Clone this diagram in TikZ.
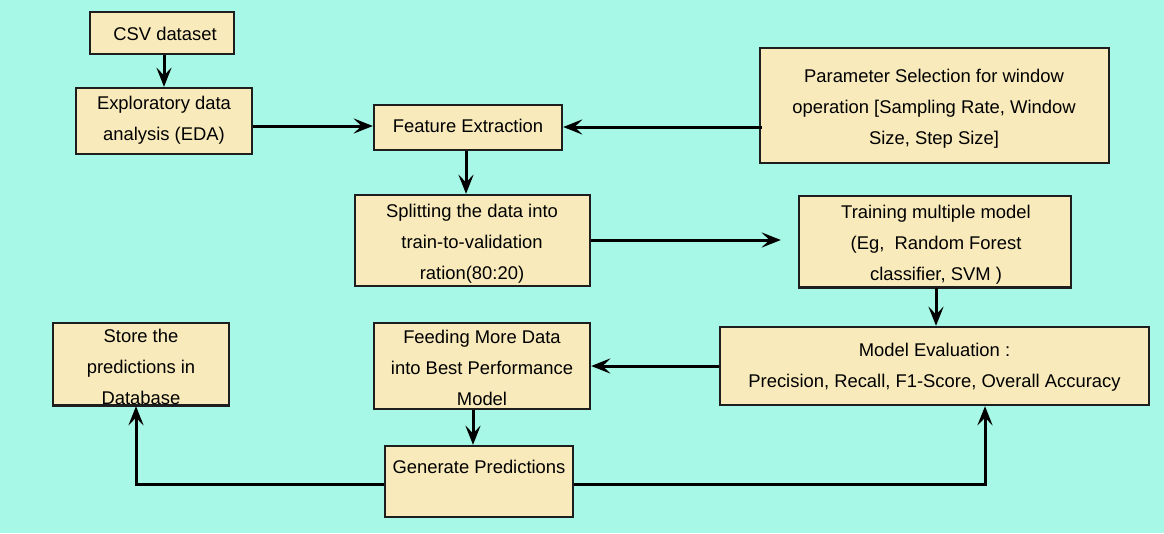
\documentclass[tikz,border=0pt]{standalone}
\usepackage{fontspec}
\setmainfont{Liberation Sans}
\usetikzlibrary{arrows.meta,calc}
\definecolor{bgc}{HTML}{A7F8E6}
\definecolor{boxc}{HTML}{F8EABA}
\definecolor{edgec}{HTML}{1E1E1E}
\begin{document}
\begin{tikzpicture}[x=1pt,y=-1pt,
  box/.style={draw=edgec,fill=boxc,line width=2.4pt,rectangle,inner sep=0pt},
  txt/.style={align=center,inner sep=0pt,font=\fontsize{18.4}{31}\selectfont,text=black},
  arr/.style={line width=3pt,draw=black,-{Stealth[length=19pt,width=15pt,inset=7.5pt]}}]
\useasboundingbox (0,0) rectangle (1164,533);
\fill[bgc] (0,0) rectangle (1164,533);
% boxes
\node[box,minimum width=144pt,minimum height=42pt] (csv) at (162,33) {};
\node[box,minimum width=176pt,minimum height=66pt] (eda) at (164,121) {};
\node[box,minimum width=188pt,minimum height=45pt] (feat) at (468,127.5) {};
\node[box,minimum width=349pt,minimum height=115pt] (param) at (934.5,105.5) {};
\node[box,minimum width=235pt,minimum height=91pt] (split) at (472.5,240.5) {};
\node[box,minimum width=272pt,minimum height=91pt] (train) at (935,241.5) {};
\node[box,minimum width=429pt,minimum height=78pt] (eval) at (934.5,366) {};
\node[box,minimum width=216pt,minimum height=86pt] (feed) at (482,366) {};
\node[box,minimum width=176pt,minimum height=82pt] (store) at (141,364) {};
\node[box,minimum width=188pt,minimum height=71pt] (gen) at (479,481.5) {};
% texts
\node[txt] (csvT) at (165,34) {CSV dataset};
\node[txt] (edaT) at (164,120) {Exploratory data\\analysis (EDA)};
\node[txt] (featT) at (468,126) {Feature Extraction};
\node[txt] (paramT) at (934,109) {Parameter Selection for window\\operation [Sampling Rate, Window\\Size, Step Size]};
\node[txt] (splitT) at (472,244) {Splitting the data into\\train-to-validation\\ration(80:20)};
\node[txt] (trainT) at (936,245) {Training multiple model\\(Eg,\ \ Random Forest\\classifier, SVM )};
\node[txt] (evalT) at (934.5,367) {Model Evaluation :\\Precision, Recall, F1-Score, Overall Accuracy};
\node[txt] (feedT) at (482,368) {Feeding More Data\\into Best Performance\\Model};
\node[txt] (storeT) at (141,367) {Store the\\predictions in\\Database};
\node[txt] (genT) at (479,467) {Generate Predictions};
% re-draw bottom edges of boxes whose text overflows
\draw[edgec,line width=2.4pt] (store.south west) -- (store.south east);
\draw[edgec,line width=2.4pt] (train.south west) -- (train.south east);
% connectors
\draw[arr] ([xshift=2pt]csv.south) -- ([xshift=0pt]eda.north);
\draw[arr] (eda.east |- 0,126) -- (feat.west |- 0,126);
\draw[arr] ([xshift=3pt]param.west |- 0,127) -- (feat.east |- 0,127);
\draw[arr] ([xshift=-2pt]feat.south) -- ([xshift=-6.5pt]split.north);
\draw[arr,shorten >=17pt] (split.east |- 0,240) -- (train.west |- 0,240);
\draw[arr] ([xshift=1pt]train.south) -- ([xshift=1.5pt]eval.north);
\draw[arr] (eval.west) -- (feed.east);
\draw[arr] ([xshift=-9pt]feed.south) -- ([xshift=-6pt]gen.north);
\draw[arr] (gen.west |- 0,484) -| ([xshift=-5pt]store.south);
\draw[arr] (gen.east |- 0,484) -| ([xshift=50.5pt]eval.south);
\end{tikzpicture}
\end{document}
